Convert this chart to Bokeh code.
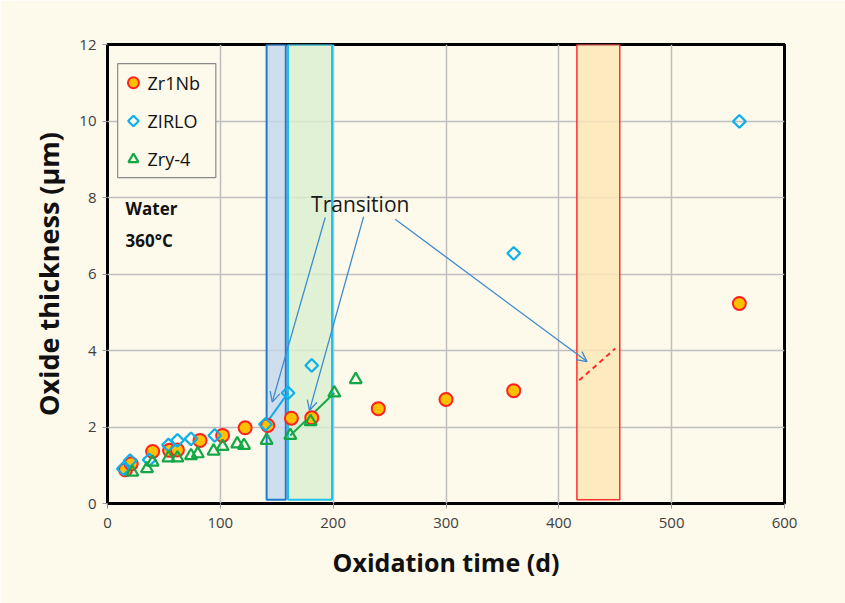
import math
from bokeh.plotting import figure
from bokeh.models import Range1d, Arrow, OpenHead, BoxAnnotation, FixedTicker
from bokeh.core.properties import value
from bokeh.embed import file_html
from bokeh.resources import INLINE

# Oxide thickness (um) vs. oxidation time (days), water at 360 C
zr1nb_t = [16, 21, 40, 55, 62, 82, 102, 122, 142, 163, 181, 240, 300, 360, 560]
zr1nb_v = [0.88, 1.04, 1.36, 1.39, 1.40, 1.65, 1.78, 1.98, 2.04, 2.23, 2.24, 2.48, 2.72, 2.95, 5.23]

zirlo_t = [14, 20, 37, 54, 62, 74, 95, 140, 160, 181, 360, 560]
zirlo_v = [0.91, 1.12, 1.14, 1.53, 1.65, 1.69, 1.78, 2.07, 2.89, 3.61, 6.54, 9.99]

zry4_t = [22, 35, 40, 54, 62, 74, 80, 94, 102, 115, 121, 141, 162, 180, 201, 220]
zry4_v = [0.82, 0.91, 1.08, 1.19, 1.19, 1.25, 1.30, 1.37, 1.49, 1.56, 1.52, 1.65, 1.78, 2.14, 2.89, 3.24]

series_names = ["Zr1Nb", "ZIRLO", "Zry-4"]

# post-transition segments
zirlo_seg_t = [140, 160]
zirlo_seg_v = [2.07, 2.89]
zry4_seg_t = [162, 201]
zry4_seg_v = [1.78, 2.89]
zr1nb_seg_t = [418, 450]
zr1nb_seg_v = [3.22, 4.05]

# transition windows (days)
band_zirlo = (141, 158)
band_zry4 = (160, 199)
band_zr1nb = (416, 454)

# annotation arrows: (tail_t, tail_v, head_t, head_v)
arrows = [(193, 7.48, 146, 2.65), (227, 7.50, 179, 2.43), (255, 7.43, 425, 3.71)]

x_ticks = [0, 100, 200, 300, 400, 500, 600]
y_ticks = [0, 2, 4, 6, 8, 10, 12]

BG = "#fdf9eb"
FONT = "Open Sans"

# marker styles shared by the data and the key
STYLE = {
    "Zr1Nb": dict(marker="circle", size=13, fill_color="#ffc000",
                  line_color="#ff2020", line_width=2),
    "ZIRLO": dict(marker="square", size=9, angle=math.pi / 4, fill_color=None,
                  line_color="#0fb0ea", line_width=2.2),
    "Zry-4": dict(marker="triangle", size=12, fill_color=None,
                  line_color="#12a846", line_width=2.2),
}
KEY_SIZE = {"Zr1Nb": 11, "ZIRLO": 7.5, "Zry-4": 10}

p = figure(width=845, height=603, output_backend="svg", toolbar_location=None,
           x_range=Range1d(0, 600), y_range=Range1d(0, 12),
           min_border_left=107, min_border_right=61, min_border_top=44,
           min_border_bottom=100)
p.background_fill_color = BG
p.border_fill_color = BG
p.outline_line_color = "black"
p.outline_line_width = 3

# page frame lines
p.add_layout(BoxAnnotation(left=5, right=900, top=4, bottom=700,
                           left_units="canvas", right_units="canvas",
                           top_units="canvas", bottom_units="canvas",
                           fill_alpha=0, line_color="#eeb36a", line_width=1.5))

for ax in (p.xaxis, p.yaxis):
    ax.axis_line_color = None
    ax.major_tick_line_color = "#9a9a9a"
    ax.major_tick_out = 5
    ax.major_tick_in = 0
    ax.minor_tick_line_color = None
    ax.major_label_text_font = FONT
    ax.major_label_text_font_size = "15px"
    ax.major_label_text_color = "#404040"
    ax.axis_label_text_font = FONT
    ax.axis_label_text_font_style = "bold"
    ax.axis_label_text_color = "#111111"

p.xaxis.axis_label_text_font_size = "25px"
p.yaxis.axis_label_text_font_size = "27px"
p.xaxis.ticker = FixedTicker(ticks=x_ticks)
p.yaxis.ticker = FixedTicker(ticks=y_ticks)
p.xaxis.axis_label = "Oxidation time (d)"
p.yaxis.axis_label = "Oxide thickness (µm)"
p.xaxis.major_label_standoff = 9
p.xaxis.axis_label_standoff = 14
p.yaxis.major_label_standoff = 6
p.yaxis.axis_label_standoff = 9

p.xgrid.grid_line_color = "#bfbfbf"
p.ygrid.grid_line_color = "#bfbfbf"
p.xgrid.grid_line_width = 1.5
p.ygrid.grid_line_width = 1.5

# transition windows
p.quad(left=[band_zirlo[0]], right=[band_zirlo[1]], bottom=[0.1], top=[12],
       fill_color="#c2d7ec", fill_alpha=0.8, line_color="#1f7ad0", line_width=2)
p.quad(left=[band_zry4[0]], right=[band_zry4[1]], bottom=[0.1], top=[12],
       fill_color="#d8efcf", fill_alpha=0.8, line_color="#22c0e8", line_width=2)
p.quad(left=[band_zr1nb[0]], right=[band_zr1nb[1]], bottom=[0.1], top=[12],
       fill_color="#fde6b4", fill_alpha=0.8, line_color="#ff3030", line_width=1.5)

# post-transition trends
p.line(zirlo_seg_t, zirlo_seg_v, line_color="#1aa8e8", line_width=2)
p.line(zry4_seg_t, zry4_seg_v, line_color="#1aa84a", line_width=2)
p.line(zr1nb_seg_t, zr1nb_seg_v, line_color="#ff2a2a", line_width=2, line_dash="5 4")

p.scatter(zr1nb_t, zr1nb_v, **STYLE["Zr1Nb"])
p.scatter(zirlo_t, zirlo_v, **STYLE["ZIRLO"])
p.scatter(zry4_t, zry4_v, **STYLE["Zry-4"])

for t0, v0, t1, v1 in arrows:
    p.add_layout(Arrow(x_start=t0, y_start=v0, x_end=t1, y_end=v1,
                       line_color="#3d8bd0", line_width=1.3,
                       end=OpenHead(size=10, line_color="#3d8bd0", line_width=1.3)))

p.text(x=[224], y=[7.82], text=["Transition"], text_font=value(FONT),
       text_font_size="21px", text_color="#1a1a1a",
       text_align="center", text_baseline="middle")
p.text(x=[16, 16], y=[7.71, 6.88], text=["Water", "360°C"], text_font=value(FONT),
       text_font_size="17px", text_font_style="bold", text_color="#111111",
       text_align="left", text_baseline="middle")

# key box in the upper-left corner, drawn in data space so the
# rotated-square ZIRLO symbol keeps its orientation
key_rows = [11.0, 10.0, 9.0]
p.quad(left=[9], right=[96], bottom=[8.52], top=[11.5],
       fill_color=BG, line_color="#8a8a8a", line_width=1.2)
for name, yy in zip(series_names, key_rows):
    style = dict(STYLE[name], size=KEY_SIZE[name])
    p.scatter([23], [yy], **style)
p.text(x=[35.5] * 3, y=key_rows, text=series_names, text_font=value(FONT),
       text_font_size="18px", text_color="#111111",
       text_align="left", text_baseline="middle")

open("out.html", "w").write(file_html(p, INLINE))
